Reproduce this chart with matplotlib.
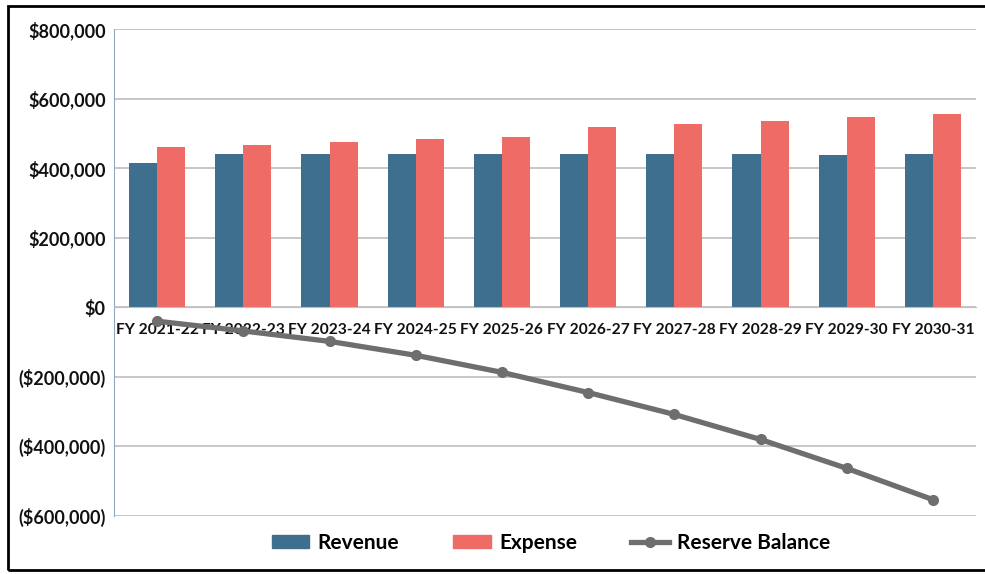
import matplotlib
matplotlib.use("Agg")
import matplotlib.pyplot as plt
import numpy as np
from matplotlib.ticker import FuncFormatter
from matplotlib.lines import Line2D
from matplotlib.patches import Patch, Rectangle

categories = ["FY 2021-22", "FY 2022-23", "FY 2023-24", "FY 2024-25", "FY 2025-26",
              "FY 2026-27", "FY 2027-28", "FY 2028-29", "FY 2029-30", "FY 2030-31"]
revenue = [414000, 440000, 442000, 440000, 440000, 441000, 441000, 440000, 439000, 441000]
expense = [460000, 466000, 475000, 483000, 489000, 518000, 526000, 535000, 547000, 555000]
reserve = [-40000, -68000, -98000, -138000, -187000, -245000, -308000, -380000, -463000, -553000]
yticks = [-600000, -400000, -200000, 0, 200000, 400000, 600000, 800000]

blue = "#3F6F8F"
red = "#EE6B66"
gray = "#6E6E6E"
font = "Lato"

fig = plt.figure(figsize=(9.85, 5.74), dpi=100)
ax = fig.add_axes([114/985, 1-516/574, (976-114)/985, (516-29)/574])

x = np.arange(len(categories))
w = 0.325
ax.bar(x - w/2, revenue, w, color=blue, zorder=2, label="Revenue")
ax.bar(x + w/2, expense, w, color=red, zorder=2, label="Expense")
ax.plot(x, reserve, color=gray, lw=3.8, marker="o", ms=7, zorder=4, label="Reserve Balance")

ax.set_xlim(-0.5, len(categories) - 0.5)
ax.set_ylim(-600000, 800000)
ax.set_yticks(yticks)
def fmt(v, pos):
    if v < 0:
        return "(${:,.0f})".format(-v)
    return "${:,.0f}".format(v)
ax.yaxis.set_major_formatter(FuncFormatter(fmt))
ax.grid(axis="y", color="#BEBEBE", lw=1.2, zorder=0)
ax.set_axisbelow(True)

ax.set_xticks(x)
ax.set_xticklabels(categories)
ax.spines["bottom"].set_position(("data", 0))
ax.spines["bottom"].set_color("#BEBEBE")
ax.spines["top"].set_visible(False)
ax.spines["right"].set_visible(False)
ax.spines["left"].set_color("#8FA8C0")
ax.tick_params(axis="both", length=0)
ax.tick_params(axis="x", pad=11)
ax.tick_params(axis="y", pad=6)
for t in ax.get_xticklabels():
    t.set_fontfamily(font); t.set_fontweight("bold"); t.set_fontsize(11.2); t.set_color("#111111")
for t in ax.get_yticklabels():
    t.set_fontfamily(font); t.set_fontweight("bold"); t.set_fontsize(13); t.set_color("#111111")

handles = [Patch(color=blue, label="Revenue"), Patch(color=red, label="Expense"),
           Line2D([0], [0], color=gray, lw=3.8, marker="o", ms=7, label="Reserve Balance")]
fig.legend(handles=handles, loc="center", bbox_to_anchor=(551/985, 1-543/574), ncol=3,
           frameon=False, prop={"family": font, "weight": "bold", "size": 15},
           handlelength=1.8, handleheight=0.6, columnspacing=2.6, handletextpad=0.4)

fig.patches.append(Rectangle((8/985, 4/574), 1.0, 1-10/574, transform=fig.transFigure,
                             fill=False, edgecolor="black", lw=2))

fig.savefig("out.png", dpi=100)
